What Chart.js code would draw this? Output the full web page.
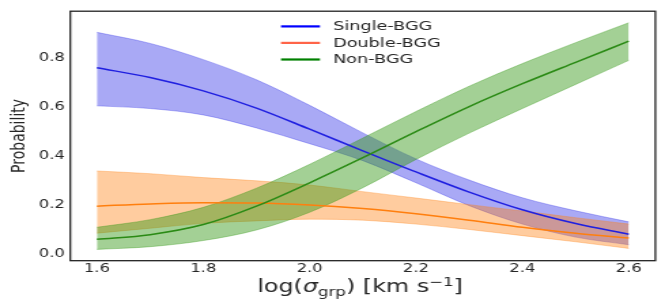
<!DOCTYPE html>
<html>
<head>
<meta charset="utf-8">
<script src="https://cdn.jsdelivr.net/npm/chart.js@4"></script>
<style>
html, body { margin: 0; padding: 0; background: #ffffff; overflow: hidden; }
#wrap { width: 665px; height: 303px; overflow: hidden; }
#c { display: block; transform-origin: 0 0; }
</style>
</head>
<body>
<div id="wrap"><canvas id="c" width="489" height="303"></canvas></div>
<script>
// ---- data ----
const logSigma = [1.6, 1.7, 1.8, 1.9, 2.0, 2.1, 2.2, 2.3, 2.4, 2.5, 2.6];

const singleMean = [0.758, 0.718, 0.664, 0.594, 0.508, 0.420, 0.334, 0.252, 0.180, 0.124, 0.081];
const singleHi   = [0.902, 0.857, 0.791, 0.709, 0.605, 0.493, 0.387, 0.301, 0.229, 0.176, 0.131];
const singleLo   = [0.603, 0.592, 0.566, 0.513, 0.449, 0.380, 0.290, 0.197, 0.122, 0.069, 0.038];

const doubleMean = [0.195, 0.204, 0.209, 0.208, 0.200, 0.185, 0.164, 0.138, 0.109, 0.085, 0.065];
const doubleHi   = [0.338, 0.327, 0.311, 0.298, 0.281, 0.254, 0.228, 0.201, 0.175, 0.148, 0.122];
const doubleLo   = [0.085, 0.105, 0.125, 0.135, 0.142, 0.138, 0.122, 0.100, 0.075, 0.050, 0.023];

const nonMean = [0.060, 0.079, 0.120, 0.195, 0.290, 0.392, 0.498, 0.600, 0.693, 0.780, 0.866];
const nonHi   = [0.109, 0.140, 0.190, 0.268, 0.365, 0.472, 0.580, 0.683, 0.775, 0.860, 0.941];
const nonLo   = [0.019, 0.030, 0.055, 0.098, 0.170, 0.270, 0.385, 0.492, 0.592, 0.690, 0.788];

const seriesNames = ['Single-BGG', 'Double-BGG', 'Non-BGG'];
const xTicks = [1.6, 1.8, 2.0, 2.2, 2.4, 2.6];
const yTicks = [0.0, 0.2, 0.4, 0.6, 0.8];
const yTitle = 'Probability';

// ---- styling ----
const lineColors = ['#1f1fe0', '#ff7f0e', '#2a8a14'];
const fillColors = ['rgba(30,30,230,0.38)', 'rgba(255,127,14,0.40)', 'rgba(50,150,20,0.45)'];
const legendColors = ['#0000ff', '#ff6448', '#008000'];
const TXT = '#262626';
const FONT = "'DejaVu Sans', sans-serif";

const W = 489, H = 303;
const S = 665 / W;
const canvas = document.getElementById('c');
canvas.style.transform = 'scaleX(' + S + ')';

const pts = arr => logSigma.map((x, i) => ({ x: x, y: arr[i] }));

const bands = [[singleHi, singleLo], [doubleHi, doubleLo], [nonHi, nonLo]];
const means = [singleMean, doubleMean, nonMean];

const datasets = [];
bands.forEach((b, k) => {
  datasets.push({
    label: seriesNames[k] + ' upper', data: pts(b[0]),
    borderColor: fillColors[k], borderWidth: 0.8, backgroundColor: fillColors[k],
    pointRadius: 0, fill: datasets.length + 1, cubicInterpolationMode: 'monotone',
    order: 10 - k
  });
  datasets.push({
    label: seriesNames[k] + ' lower', data: pts(b[1]),
    borderColor: fillColors[k], borderWidth: 0.8, backgroundColor: 'rgba(0,0,0,0)',
    pointRadius: 0, fill: false, cubicInterpolationMode: 'monotone',
    order: 10 - k
  });
});
means.forEach((m, k) => {
  datasets.push({
    label: seriesNames[k], data: pts(m),
    borderColor: lineColors[k], borderWidth: 1.5, backgroundColor: lineColors[k],
    pointRadius: 0, fill: false, cubicInterpolationMode: 'monotone',
    order: 3 - k
  });
});

const framePlugin = {
  id: 'framePlugin',
  afterDatasetsDraw(chart) {
    const { ctx, chartArea: a } = chart;
    ctx.save();
    ctx.strokeStyle = '#1a1a1a';
    ctx.lineWidth = 1.25;
    ctx.strokeRect(a.left, a.top, a.right - a.left, a.bottom - a.top);
    ctx.restore();
  },
  afterDraw(chart) {
    const { ctx, chartArea: a } = chart;
    ctx.save();
    // legend (inside the plot, upper centre)
    const lx = a.left + 154.9, lineW = 28.7, tx = a.left + 193.2;
    const rowY = [a.top + 15.2, a.top + 31.7, a.top + 48.3];
    ctx.font = '13px ' + FONT;
    ctx.textBaseline = 'middle';
    ctx.textAlign = 'left';
    seriesNames.forEach((name, i) => {
      ctx.fillStyle = legendColors[i];
      ctx.fillRect(lx, rowY[i] - 1.1, lineW, 2.2);
      ctx.fillStyle = TXT;
      ctx.fillText(name, tx, rowY[i] + 0.5);
    });
    // x-axis title: log(σ_grp) [km s^-1]
    const big = 17.5, small = 12.3;
    const parts = [
      { t: 'log(', f: big + 'px ' + FONT, dy: 0 },
      { t: 'σ', f: 'italic ' + big + 'px ' + FONT, dy: 0 },
      { t: 'grp', f: small + 'px ' + FONT, dy: 3.5 },
      { t: ') [km s', f: big + 'px ' + FONT, dy: 0 },
      { t: '−1', f: small + 'px ' + FONT, dy: -6.5 },
      { t: ']', f: big + 'px ' + FONT, dy: 0 }
    ];
    ctx.fillStyle = TXT;
    ctx.textBaseline = 'alphabetic';
    let total = 0;
    parts.forEach(p => { ctx.font = p.f; p.w = ctx.measureText(p.t).width; total += p.w; });
    let x = (a.left + a.right) / 2 - total / 2 - 2;
    const base = 292;
    parts.forEach(p => { ctx.font = p.f; ctx.fillText(p.t, x, base + p.dy); x += p.w; });
    ctx.restore();
  }
};

new Chart(canvas, {
  type: 'line',
  data: { datasets: datasets },
  plugins: [framePlugin],
  options: {
    responsive: false,
    devicePixelRatio: 1,
    animation: false,
    layout: { padding: { top: 5.5, right: 7.1, left: 0, bottom: 0 } },
    plugins: {
      tooltip: { enabled: false },
      legend: { display: false }
    },
    scales: {
      x: {
        type: 'linear', min: 1.55, max: 2.65, bounds: 'data',
        grid: { display: false, drawTicks: false },
        border: { display: false },
        afterBuildTicks: s => { s.ticks = xTicks.map(v => ({ value: v })); },
        afterFit: s => { s.height = 42.3; },
        ticks: {
          autoSkip: false, maxRotation: 0, padding: 1, color: TXT,
          font: { family: FONT, size: 12 },
          callback: v => Number(v).toFixed(1)
        },
        title: { display: false }
      },
      y: {
        type: 'linear', min: -0.027, max: 0.988, bounds: 'data',
        grid: { display: false, drawTicks: false },
        border: { display: false },
        afterBuildTicks: s => { s.ticks = yTicks.map(v => ({ value: v })); },
        afterFit: s => { s.width = 51.7; },
        ticks: {
          padding: 4, color: TXT,
          font: { family: FONT, size: 12 },
          callback: v => Number(v).toFixed(1)
        },
        title: {
          display: true, text: yTitle, color: TXT,
          font: { family: FONT, size: 14 },
          padding: { top: 5.6, bottom: 0 }
        }
      }
    }
  }
});
</script>
</body>
</html>
